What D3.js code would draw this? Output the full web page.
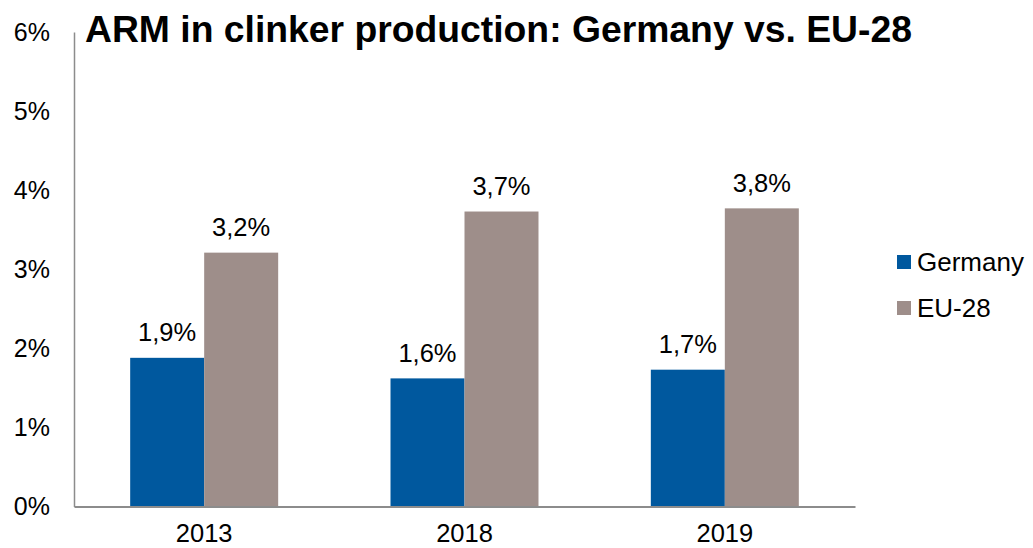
<!DOCTYPE html>
<html>
<head>
<meta charset="utf-8">
<script src="https://cdn.jsdelivr.net/npm/d3@7"></script>
<style>
  html, body { margin: 0; padding: 0; background: #ffffff; }
  svg { display: block; font-family: "Liberation Sans", Arial, sans-serif; }
</style>
</head>
<body>
<svg id="chart" width="1033" height="548"></svg>
<script>
// Share of alternative raw materials (ARM) in clinker production, in percent
const years = ["2013", "2018", "2019"];
const seriesNames = ["Germany", "EU-28"];
const germanyValues = [1.88, 1.62, 1.73];
const eu28Values = [3.21, 3.73, 3.77];
const yTicks = [0, 1, 2, 3, 4, 5, 6];
const colors = ["#00589e", "#9e8e8a"];
const titleText = "ARM in clinker production: Germany vs. EU-28";

const rows = years.map((year, i) => ({
  year,
  values: [germanyValues[i], eu28Values[i]]
}));

const svg = d3.select("#chart");

const x = d3.scaleBand()
  .domain(years)
  .range([74, 855])
  .paddingInner(0.4315)
  .paddingOuter(0.2158);

const xSeries = d3.scaleBand()
  .domain(seriesNames)
  .range([0, x.bandwidth()])
  .padding(0);

const y = d3.scaleLinear()
  .domain([0, 6])
  .range([506.5, 32]);

const color = d3.scaleOrdinal().domain(seriesNames).range(colors);

const fmt = v => d3.format(".1f")(v).replace(".", ",") + "%";

// Bars
const groups = svg.append("g")
  .selectAll("g")
  .data(rows)
  .join("g")
  .attr("transform", d => `translate(${x(d.year)},0)`);

groups.selectAll("rect")
  .data(d => d.values.map((v, i) => ({ name: seriesNames[i], value: v })))
  .join("rect")
  .attr("x", d => xSeries(d.name))
  .attr("y", d => y(d.value))
  .attr("width", xSeries.bandwidth())
  .attr("height", d => y(0) - y(d.value))
  .attr("fill", d => color(d.name));

// Value labels above bars
groups.selectAll("text")
  .data(d => d.values.map((v, i) => ({ name: seriesNames[i], value: v })))
  .join("text")
  .attr("x", d => xSeries(d.name) + xSeries.bandwidth() / 2)
  .attr("y", d => y(d.value) - 16.5)
  .attr("text-anchor", "middle")
  .attr("font-size", 25.5)
  .attr("fill", "#000")
  .text(d => fmt(d.value));

// Y axis
const yAxis = svg.append("g")
  .attr("transform", "translate(74,0)")
  .call(d3.axisLeft(y).tickValues(yTicks).tickSize(0).tickPadding(24).tickFormat(d => d + "%"));
yAxis.select(".domain").attr("stroke", "#8c8c8c").attr("stroke-width", 1.5);
yAxis.selectAll("text")
  .attr("font-size", 25)
  .attr("font-family", "Liberation Sans, Arial, sans-serif")
  .attr("fill", "#000");

// X axis
const xAxis = svg.append("g")
  .attr("transform", `translate(0,${y(0)})`)
  .call(d3.axisBottom(x).tickSize(0).tickPadding(17.5));
xAxis.select(".domain").attr("stroke", "#8c8c8c").attr("stroke-width", 2);
xAxis.selectAll("text")
  .attr("font-size", 25.5)
  .attr("font-family", "Liberation Sans, Arial, sans-serif")
  .attr("fill", "#000");

// Title
svg.append("text")
  .attr("x", 85)
  .attr("y", 42)
  .attr("font-size", 37.3)
  .attr("font-weight", "bold")
  .attr("fill", "#000")
  .text(titleText);

// Legend
const legend = svg.append("g")
  .selectAll("g")
  .data(seriesNames)
  .join("g")
  .attr("transform", (d, i) => `translate(897,${262 + i * 46})`);

legend.append("rect")
  .attr("x", 0)
  .attr("y", -7)
  .attr("width", 14)
  .attr("height", 14)
  .attr("fill", d => color(d));

legend.append("text")
  .attr("x", 20)
  .attr("y", 9)
  .attr("font-size", 26)
  .attr("fill", "#000")
  .text(d => d);
</script>
</body>
</html>
